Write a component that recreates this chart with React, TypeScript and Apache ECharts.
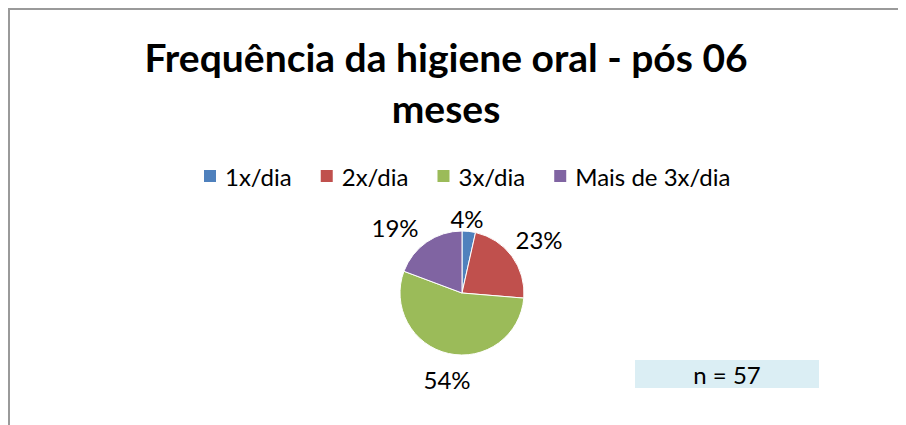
import React, { useEffect, useRef } from "react";
import * as echarts from "echarts";

const categories = ["1x/dia", "2x/dia", "3x/dia", "Mais de 3x/dia"];
const counts = [2, 13, 31, 11];
const colors = ["#4F81BD", "#C0504D", "#9BBB59", "#8064A2"];
const titleText = "Frequência da higiene oral - pós 06\nmeses";
const noteText = "n = 57";

// label offsets from pie centre (style only), in data order
const labelOffsets: [number, number][] = [
  [5, -75],
  [77, -54],
  [-15, 86],
  [-67, -66],
];

const FONT = "Lato";
const CX = 454;
const CY = 285;
const R = 62;

export default function App() {
  const ref = useRef<HTMLDivElement>(null);
  useEffect(() => {
    if (!ref.current) return;
    const chart = echarts.init(ref.current, undefined, { renderer: "svg" });
    const total = counts.reduce((a, b) => a + b, 0);
    chart.setOption({
      animation: false,
      backgroundColor: "#ffffff",
      color: colors,
      textStyle: { fontFamily: FONT },
      title: {
        text: titleText,
        left: 433,
        top: 18,
        textAlign: "center",
        textStyle: {
          fontFamily: FONT,
          fontSize: 39,
          fontWeight: "bold",
          color: "#000",
          lineHeight: 51,
        },
      },
      legend: {
        data: categories,
        left: 194,
        top: 156,
        padding: 0,
        icon: "rect",
        itemWidth: 14,
        itemHeight: 14,
        itemGap: 27,
        textStyle: {
          fontFamily: FONT,
          fontSize: 24,
          color: "#000",
          lineHeight: 24,
          padding: [0, 0, 0, 3],
        },
      },
      series: [
        {
          type: "pie",
          center: [CX, CY],
          radius: R,
          startAngle: 90,
          clockwise: true,
          itemStyle: { borderColor: "#ffffff", borderWidth: 1 },
          label: {
            show: true,
            position: "outside",
            formatter: (p: any) => Math.round((p.value / total) * 100) + "%",
            fontFamily: FONT,
            fontSize: 24,
            color: "#000",
          },
          labelLine: { show: false },
          labelLayout: (p: any) => {
            const o = labelOffsets[p.dataIndex];
            return {
              x: CX + o[0],
              y: CY + o[1],
              align: "center",
              verticalAlign: "middle",
            };
          },
          data: categories.map((c, i) => ({ name: c, value: counts[i] })),
        },
      ],
      graphic: [
        {
          type: "line",
          shape: { x1: 1, y1: 0, x2: 1, y2: 417 },
          style: { stroke: "#9a9a9a", lineWidth: 2 },
        },
        {
          type: "line",
          shape: { x1: 0, y1: 1, x2: 898, y2: 1 },
          style: { stroke: "#9a9a9a", lineWidth: 2 },
        },
        {
          type: "rect",
          shape: { x: 627, y: 352, width: 184, height: 28 },
          style: { fill: "#DBEEF4" },
        },
        {
          type: "text",
          x: 719,
          y: 366,
          style: {
            text: noteText,
            fontFamily: FONT,
            fontSize: 24,
            fill: "#000",
            align: "center",
            verticalAlign: "middle",
          },
        },
      ],
    });
    return () => chart.dispose();
  }, []);
  return <div ref={ref} style={{ width: 898, height: 417 }} />;
}
